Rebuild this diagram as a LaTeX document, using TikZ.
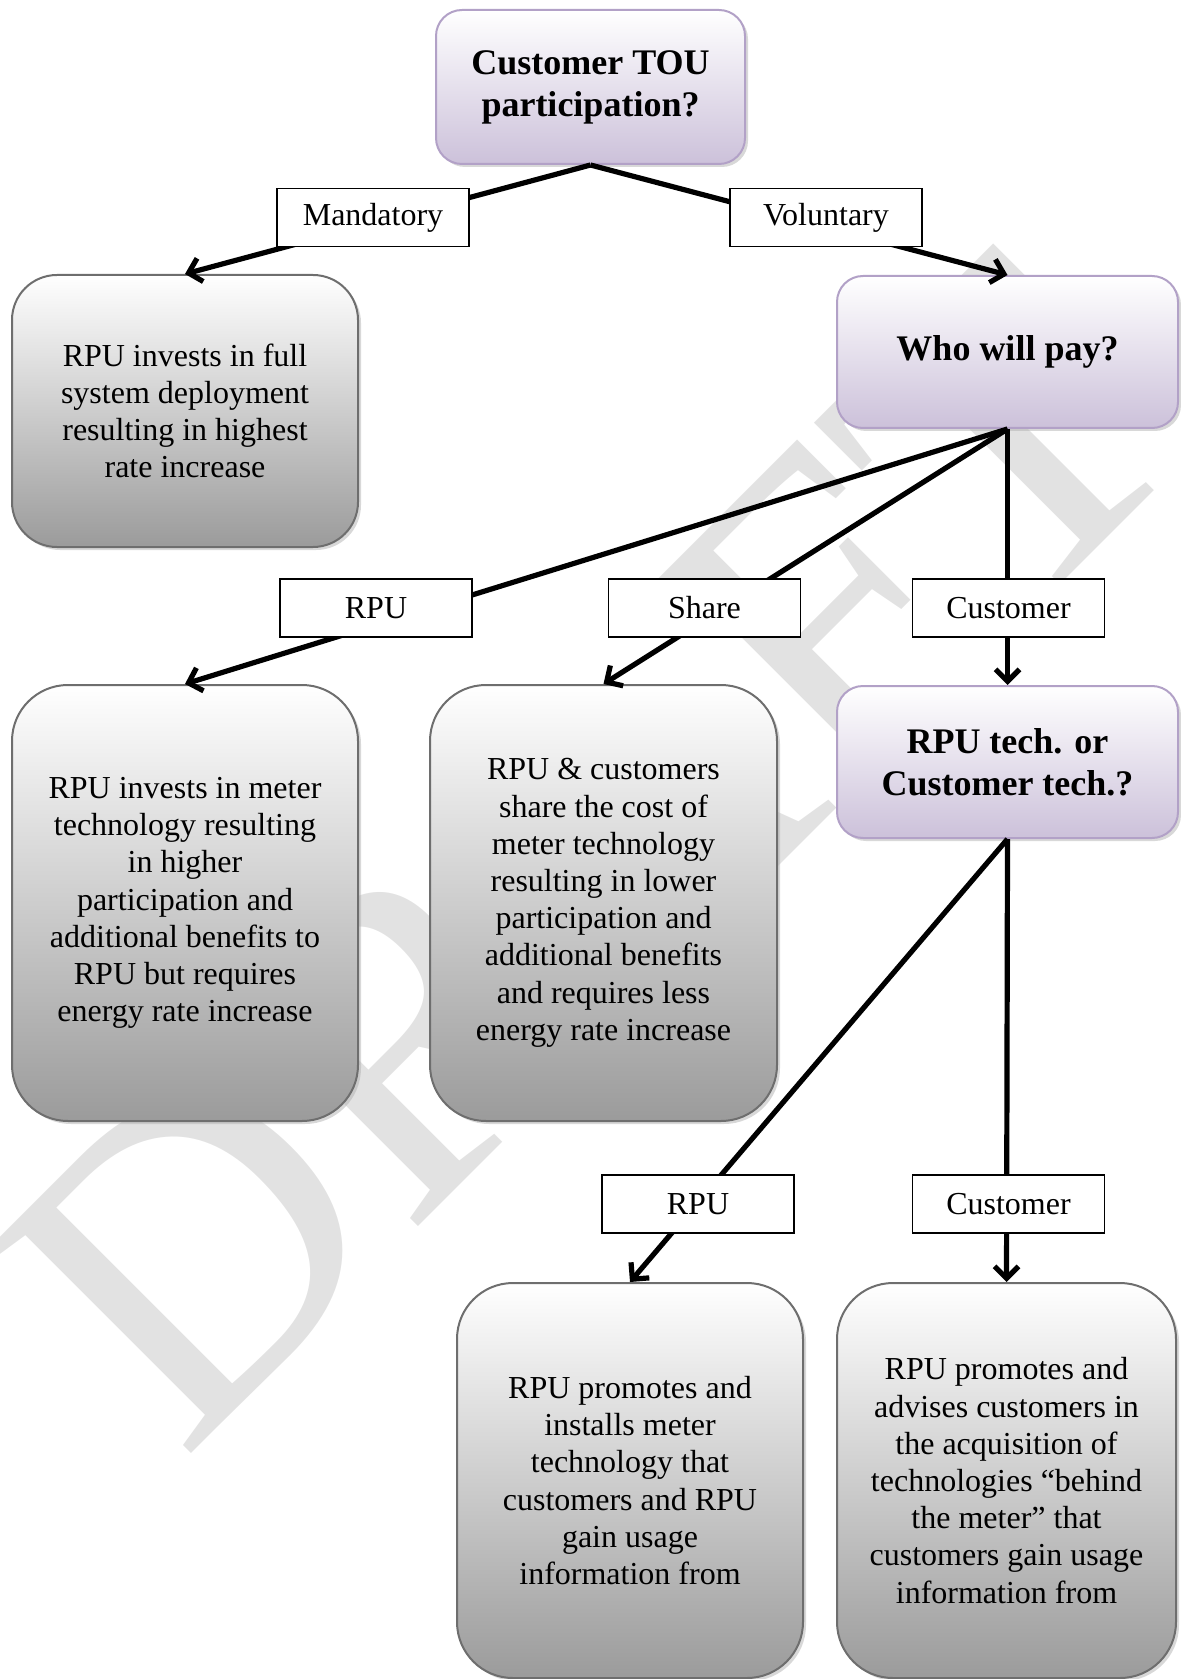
\documentclass[tikz,border=0pt]{standalone}
\usepackage{fontspec}
\setmainfont{Liberation Serif}
\usetikzlibrary{arrows.meta,shadows}
\definecolor{boxgray}{RGB}{155,155,155}
\definecolor{boxedge}{RGB}{110,110,110}
\definecolor{lavender}{RGB}{204,193,218}
\definecolor{lavedge}{RGB}{178,161,199}
\definecolor{wmgray}{RGB}{226,226,226}
\tikzset{
  graybox/.style={draw=boxedge,line width=1pt,rounded corners=28pt,
    top color=white,bottom color=boxgray,align=center,inner sep=0pt,
    font=\fontsize{16}{18.6}\selectfont,
    drop shadow={shadow xshift=1.5pt,shadow yshift=-1.5pt,fill=black!30}},
  purplebox/.style={draw=lavedge,line width=1pt,rounded corners=13pt,
    top color=white,bottom color=lavender,align=center,inner sep=0pt,
    minimum width=170.5pt,minimum height=76pt,
    font=\fontsize{18}{21}\selectfont\bfseries,
    drop shadow={shadow xshift=1.5pt,shadow yshift=-1.5pt,fill=black!30}},
  lbl/.style={draw,fill=white,line width=0.75pt,minimum width=96pt,
    minimum height=29pt,inner sep=0pt,font=\fontsize{16}{18.6}\selectfont},
  conn/.style={line width=2.6pt,-{Straight Barb[length=6pt,width=12pt]}}
}
\begin{document}
\begin{tikzpicture}[x=0.5pt,y=-0.5pt]
\useasboundingbox (0,0) rectangle (1180,1679);
% watermark
\node [rotate=45,text=wmgray,inner sep=0pt,font=\fontsize{220}{220}\selectfont] (wm) at (590,850) {DRAFT};
% questions
\node [purplebox,minimum width=154.5pt,minimum height=77pt] (tou) at (590.5,87) {Customer TOU\\participation?};
\node [purplebox] (pay) at (1007.5,352) {Who will pay?};
\node [purplebox] (tech) at (1007.5,762) {RPU tech. or\\Customer tech.?};
% outcomes
\node [graybox,rounded corners=22.5pt,minimum width=173pt,minimum height=136pt] (full) at (185,411)
  {RPU invests in full\\system deployment\\resulting in highest\\rate increase};
\node [graybox,minimum width=173pt,minimum height=218pt] (rpu) at (185,903)
  {RPU invests in meter\\technology resulting\\in higher\\participation and\\additional benefits to\\RPU but requires\\energy rate increase};
\node [graybox,minimum width=173.5pt,minimum height=218pt] (share) at (603.5,903)
  {RPU \& customers\\share the cost of\\meter technology\\resulting in lower\\participation and\\additional benefits\\and requires less\\energy rate increase};
\node [graybox,minimum width=173pt,minimum height=197.5pt] (promote) at (630,1480.5)
  {RPU promotes and\\installs meter\\technology that\\customers and RPU\\gain usage\\information from};
\node [graybox,minimum width=169.5pt,minimum height=197.5pt] (advise) at (1006.5,1480.5)
  {RPU promotes and\\advises customers in\\the acquisition of\\technologies “behind\\the meter” that\\customers gain usage\\information from};
% connectors
\draw [conn] (tou.south) -- (full.north);
\draw [conn] (tou.south) -- (pay.north);
\draw [conn] (pay.south) -- (rpu.north);
\draw [conn] (pay.south) -- (share.north);
\draw [conn] (pay.south) -- (tech.north);
\draw [conn] (tech.south) -- (promote.north);
\draw [conn] (tech.south) -- (advise.north);
% labels
\node [lbl] (mand) at (373,217.5) {Mandatory};
\node [lbl] (vol) at (826,217.5) {Voluntary};
\node [lbl] (byrpu) at (376,608) {RPU};
\node [lbl] (byshare) at (704.5,608) {Share};
\node [lbl] (bycust) at (1008.5,608) {Customer};
\node [lbl] (techrpu) at (698,1204) {RPU};
\node [lbl] (techcust) at (1008.5,1204) {Customer};
\end{tikzpicture}
\end{document}
